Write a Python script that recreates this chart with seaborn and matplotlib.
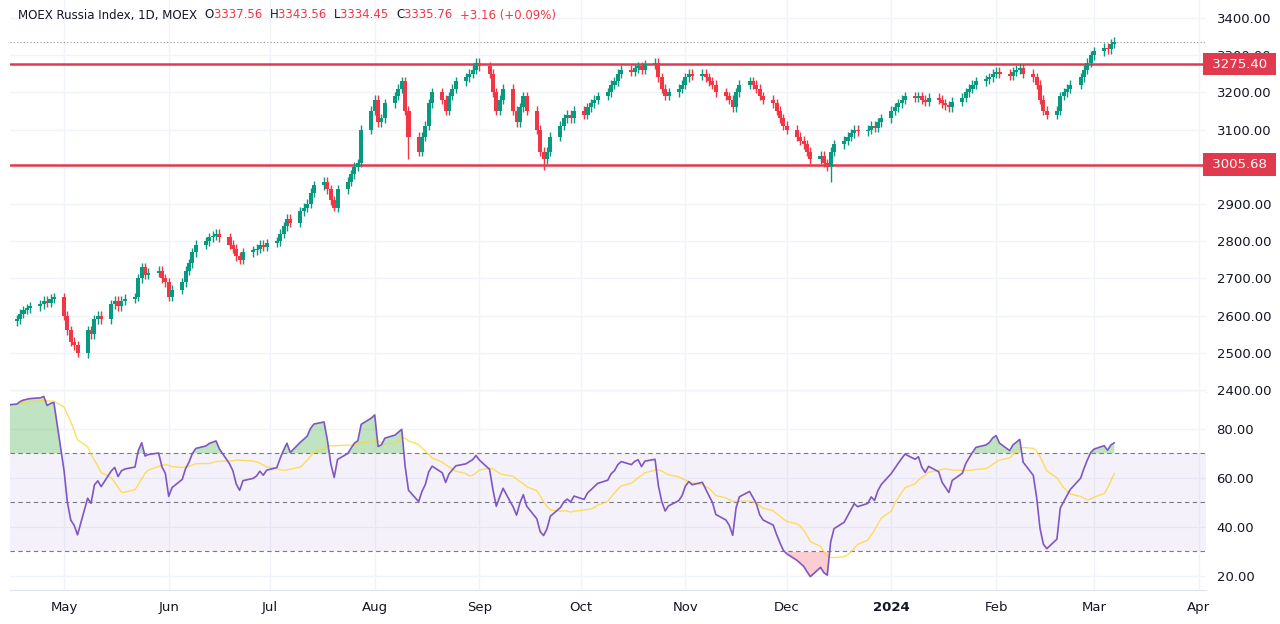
import numpy as np
import pandas as pd
import matplotlib
matplotlib.use("Agg")
import matplotlib.pyplot as plt
import matplotlib.dates as mdates
import seaborn as sns

sns.set_style("white")
plt.rcParams["font.family"] = "DejaVu Sans"

# daily closes, weekly rows (first 3 weeks are warm-up for RSI, off-screen)
closes = [
    2470, 2480, 2490, 2485, 2500, 2510, 2520, 2515, 2530, 2540, 2550, 2545, 2560, 2570, 2585,
    2590, 2605, 2615, 2620, 2625, 2630, 2640, 2635, 2645, 2650,
    2600, 2560, 2530, 2520, 2500, 2560, 2550, 2590, 2600, 2590,
    2630, 2640, 2625, 2640, 2645, 2650, 2700, 2730, 2710, 2715,
    2720, 2700, 2690, 2650, 2670, 2690, 2720, 2740, 2770, 2790,
    2800, 2810, 2815, 2820, 2810, 2790, 2780, 2760, 2750, 2770,
    2775, 2780, 2790, 2785, 2795, 2800, 2820, 2840, 2860, 2850,
    2880, 2890, 2900, 2930, 2950, 2960, 2940, 2910, 2890, 2940,
    2960, 2980, 3000, 3010, 3100, 3150, 3180, 3120, 3130, 3170,
    3190, 3210, 3230, 3150, 3080, 3040, 3080, 3110, 3170, 3200,
    3180, 3150, 3190, 3210, 3230, 3240, 3250, 3260, 3280, 3270,
    3250, 3200, 3150, 3180, 3210, 3150, 3120, 3160, 3190, 3150,
    3100, 3040, 3020, 3040, 3080, 3110, 3130, 3140, 3130, 3150,
    3140, 3160, 3170, 3180, 3190, 3200, 3220, 3230, 3250, 3260,
    3255, 3265, 3270, 3260, 3275, 3280, 3240, 3210, 3190, 3200,
    3210, 3220, 3240, 3250, 3245, 3250, 3240, 3230, 3220, 3200,
    3190, 3180, 3160, 3200, 3220, 3230, 3220, 3210, 3190, 3180,
    3170, 3150, 3130, 3110, 3100, 3080, 3070, 3060, 3040, 3020,
    3030, 3010, 3000, 3040, 3060, 3070, 3080, 3090, 3100, 3095,
    3100, 3110, 3105, 3120, 3130, 3150, 3160, 3170, 3180, 3190,
    3185, 3190, 3180, 3175, 3185, 3180, 3170, 3165, 3160, 3175,
    3185, 3200, 3210, 3220, 3230, 3235, 3240, 3250, 3255, 3250,
    3245, 3255, 3260, 3265, 3250, 3240, 3220, 3180, 3150, 3140,
    3150, 3190, 3200, 3210, 3220, 3240, 3260, 3280, 3300, 3310,
    3320, 3315, 3330, 3336,
]
extra_lows = {30: 2485, 48: 2640, 83: 2880, 99: 3020, 127: 2990, 188: 2960}
levels = [3275.40, 3005.68]
last_price = 3335.76
price_ticks = [2400, 2500, 2600, 2700, 2800, 2900, 3000, 3100, 3200, 3300, 3400]
rsi_ticks = [20, 40, 60, 80]
month_starts = ["2023-05-01", "2023-06-01", "2023-07-01", "2023-08-01", "2023-09-01", "2023-10-01",
                "2023-11-01", "2023-12-01", "2024-01-01", "2024-02-01", "2024-03-01", "2024-04-01"]
month_labels = ["May", "Jun", "Jul", "Aug", "Sep", "Oct", "Nov", "Dec", "2024", "Feb", "Mar", "Apr"]

dates = pd.bdate_range("2023-03-27", periods=len(closes))
df = pd.DataFrame({"date": dates, "close": closes})
df["open"] = df["close"].shift(1).fillna(df["close"])
df["high"] = df[["open", "close"]].max(axis=1) + 12
df["low"] = df[["open", "close"]].min(axis=1) - 12
for i, v in extra_lows.items():
    df.loc[i, "low"] = v

# RSI 14 (Wilder, seeded with a simple mean) + 14 SMA
n = 14
d = np.diff(np.array(closes, dtype=float))
g, l = np.clip(d, 0, None), np.clip(-d, 0, None)
rsi = np.full(len(closes), np.nan)
ag, al = g[:n].mean(), l[:n].mean()
rsi[n] = 100 - 100 / (1 + ag / al)
for i in range(n, len(d)):
    ag = (ag * (n - 1) + g[i]) / n
    al = (al * (n - 1) + l[i]) / n
    rsi[i + 1] = 100 - 100 / (1 + ag / al)
df["rsi"] = rsi
df["rsi_ma"] = df["rsi"].rolling(n, min_periods=1).mean()

GREEN, RED = "#089981", "#F23645"
GRID = "#f0f3fa"
TXT = "#131722"

fig = plt.figure(figsize=(12.8, 6.24), dpi=100)
ax = fig.add_axes([0.0078, 0.372, 0.934, 0.628])
ax2 = fig.add_axes([0.0078, 0.0545, 0.934, 0.3175], sharex=ax)

xs = mdates.date2num(df["date"])
up_mask = df["close"] >= df["open"]
cols = np.where(up_mask, GREEN, RED)
ax.vlines(xs, df["low"], df["high"], colors=cols, lw=1, zorder=3)
body_lo = df[["open", "close"]].min(axis=1)
body_h = (df["close"] - df["open"]).abs().clip(lower=1.5)
ax.bar(xs, body_h, bottom=body_lo, width=1.2, color=cols, zorder=4, linewidth=0)

for lv in levels:
    ax.axhline(lv, color="#E03A4E", lw=1.8, zorder=2)
    ax.text(1.002, lv, f" {lv:.2f} ", transform=ax.get_yaxis_transform(), ha="left", va="center",
            color="white", fontsize=9.5, zorder=10, clip_on=False,
            bbox=dict(boxstyle="square,pad=0.35", fc="#E03A4E", ec="none"))
ax.axhline(last_price, color="#9598a1", lw=0.8, ls=(0, (1, 2)), zorder=1)

xmin, xmax = mdates.datestr2num("2023-04-15"), mdates.datestr2num("2024-04-03")
ax.set_xlim(xmin, xmax)
ax.set_ylim(2395, 3448)
ax.set_yticks(price_ticks)
# 3000 label sits under the 3005.68 tag, 3300 peeks out above the 3275.40 tag
ax.set_yticklabels(["" if t == 3000 else f"{t:.2f}" for t in price_ticks])
ax.yaxis.tick_right()
ax.yaxis.set_zorder(0.5)

# RSI panel
ax2.axhspan(30, 70, color="#7E57C2", alpha=0.08, lw=0)
for h in [70, 50, 30]:
    ax2.axhline(h, color="#787b86", lw=0.8, ls=(0, (4, 3)))
r = df["rsi"].values
ok = ~np.isnan(r)
ax2.fill_between(xs[ok], 70, r[ok], where=r[ok] > 70, interpolate=True, color="#4caf50", alpha=0.35, lw=0)
ax2.fill_between(xs[ok], 30, r[ok], where=r[ok] < 30, interpolate=True, color="#f23645", alpha=0.25, lw=0)
sns.lineplot(x=xs, y=df["rsi_ma"], ax=ax2, color="#FDD835", lw=1, alpha=0.8)
sns.lineplot(x=xs, y=df["rsi"], ax=ax2, color="#7E57C2", lw=1.2)
ax2.set_ylim(14.3, 95)
ax2.set_yticks(rsi_ticks)
ax2.set_yticklabels([f"{t:.2f}" for t in rsi_ticks])
ax2.yaxis.tick_right()
ax2.set_ylabel("")

ticks = mdates.datestr2num(month_starts)
ax2.set_xticks(ticks)
ax2.set_xticklabels(month_labels)
for lbl in ax2.get_xticklabels():
    if lbl.get_text() == "2024":
        lbl.set_fontweight("bold")
plt.setp(ax.get_xticklabels(), visible=False)

for a in (ax, ax2):
    a.grid(True, color=GRID, lw=1)
    a.tick_params(length=0, labelsize=9.5, labelcolor=TXT, pad=8)
    for s in a.spines.values():
        s.set_visible(False)
for a in (ax, ax2):
    a.spines["bottom"].set_visible(True)
    a.spines["bottom"].set_color("#e0e3eb")

# header, pieces laid out one after another
pieces = [("MOEX Russia Index, 1D, MOEX  ", TXT), ("O", TXT), ("3337.56  ", RED), ("H", TXT),
          ("3343.56  ", RED), ("L", TXT), ("3334.45  ", RED), ("C", TXT), ("3335.76  ", RED),
          ("+3.16 (+0.09%)", RED)]
renderer = fig.canvas.get_renderer()
x_px = 18
for s, c in pieces:
    t = fig.text(x_px / 1280, 1 - 15 / 624, s, fontsize=8.5, color=c, va="center")
    x_px += t.get_window_extent(renderer).width

fig.savefig("out.png", dpi=100)
